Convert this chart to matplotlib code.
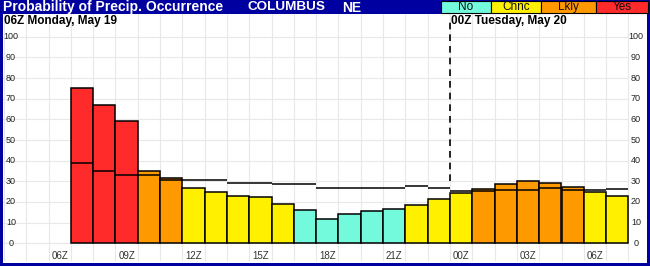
import numpy as np
import matplotlib
matplotlib.use('Agg')
import matplotlib.pyplot as plt
from matplotlib.patches import Rectangle

# hourly probability of precip occurrence, 07Z May 19 .. 07Z May 20
hours = np.arange(7, 32)
pop = [75, 67, 59, 35, 31.5, 27, 25, 23, 22.5, 19, 16, 12, 14, 15.6, 16.5,
       18.4, 21.3, 24.2, 26.5, 28.5, 30, 29, 27.1, 24.7, 22.7]
prev = [39, 35, 33, 33, 30.5, 30.5, 30.5, 29, 29, 28.7, 28.7, 27, 27, 27, 27,
        27.6, 26.6, 25.5, 25.5, 25.6, 25.6, 26.6, 25.6, 25.6, 26.1]
category = ['Yes', 'Yes', 'Yes', 'Lkly', 'Lkly', 'Chnc', 'Chnc', 'Chnc', 'Chnc',
            'Chnc', 'No', 'No', 'No', 'No', 'No', 'Chnc', 'Chnc', 'Chnc',
            'Lkly', 'Lkly', 'Lkly', 'Lkly', 'Lkly', 'Chnc', 'Chnc']
tick_hours = [6, 9, 12, 15, 18, 21, 24, 27, 30]
tick_labels = ['06Z', '09Z', '12Z', '15Z', '18Z', '21Z', '00Z', '03Z', '06Z']
legend_names = ['No', 'Chnc', 'Lkly', 'Yes']

colors = {'No': '#73fadc', 'Chnc': '#fff000', 'Lkly': '#ff9900', 'Yes': '#ff2a2a'}
navy = '#0000a0'
W, H = 650, 266

plt.rcParams['font.family'] = ['Liberation Sans', 'DejaVu Sans']

fig = plt.figure(figsize=(W / 100, H / 100), dpi=100)
fig.patch.set_facecolor(navy)


def px_x(p):
    # figure pixel -> hour
    return 3.5 + (p - 4) / 22.3


def px_y(p):
    # figure pixel (from top) -> percent
    return (243.3 - p) / 2.066


ax = fig.add_axes([3 / W, 3 / H, 644 / W, 249 / H])
ax.set_facecolor('white')
ax.set_xlim(px_x(3), px_x(647))
ax.set_ylim(px_y(263), px_y(14))
for s in ax.spines.values():
    s.set_visible(False)
ax.set_xticks([])
ax.set_yticks([])

grid = '#e8e8e8'
for y in range(0, 101, 10):
    ax.plot([px_x(3), 31.5], [y, y], color=grid, lw=0.8, zorder=1)
for x in np.arange(3.5, 32, 1.0):
    ax.plot([x, x], [px_y(260), px_y(14)], color=grid, lw=0.8, zorder=1)

ax.bar(hours, pop, width=1.0, color=[colors[c] for c in category],
       edgecolor='black', linewidth=1.1, zorder=2)
ax.hlines(prev, hours - 0.5, hours + 0.5, color='black', lw=1.1, zorder=3)

ax.plot([23.5, 23.5], [30, px_y(21)], color='black', lw=1.2,
        linestyle=(0, (4, 3)), zorder=3)

for y in range(0, 101, 10):
    ax.text(px_x(11), y, str(y), ha='center', va='center', fontsize=6.5,
            color='#222222', zorder=4)
    ax.text(px_x(636), y, str(y), ha='center', va='center', fontsize=6.5,
            color='#222222', zorder=4)
for h, lab in zip(tick_hours, tick_labels):
    ax.text(h, px_y(256), lab, ha='center', va='center', fontsize=7,
            color='#333333', zorder=4)

ax.text(px_x(4), px_y(21), '06Z Monday, May 19', ha='left', va='center',
        fontsize=8.5, fontweight='bold', zorder=4)
ax.text(px_x(451), px_y(21), '00Z Tuesday, May 20', ha='left', va='center',
        fontsize=8.5, fontweight='bold', zorder=4)

# header bar
ty = 1 - 7.5 / H
fig.text(3 / W, ty, 'Probability of Precip. Occurrence', color='white',
         fontsize=10, fontweight='bold', ha='left', va='center')
fig.text(247 / W, ty, 'COLUMBUS', color='white', fontsize=9.7,
         fontweight='bold', ha='left', va='center')
fig.text(342 / W, ty, 'NE', color='white', fontsize=10,
         fontweight='bold', ha='left', va='center')

edges = [441, 491, 541, 596, 648]
for i, name in enumerate(legend_names):
    x0, x1 = edges[i], edges[i + 1]
    fig.patches.append(Rectangle((x0 / W, 1 - 13 / H), (x1 - x0) / W, 12 / H,
                                 transform=fig.transFigure,
                                 facecolor=colors[name], edgecolor='black',
                                 linewidth=0.8))
    fig.text((x0 + x1) / 2 / W, 1 - 7 / H, name, fontsize=8.5, ha='center',
             va='center', color='#111111')

fig.savefig('out.png', dpi=100, facecolor=fig.get_facecolor())
